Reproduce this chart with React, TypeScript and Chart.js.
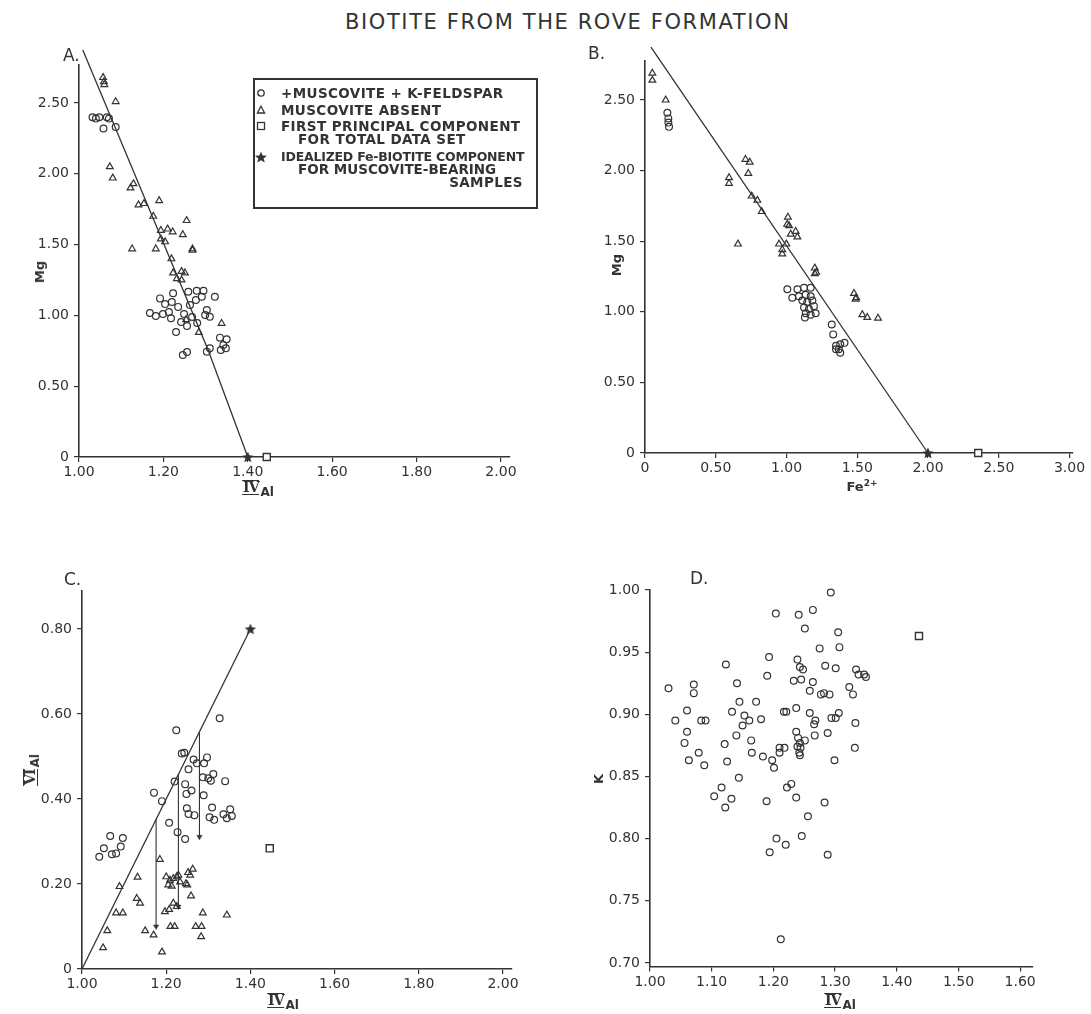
import React, { useEffect, useRef } from 'react';
import { Chart, registerables } from 'chart.js';

Chart.register(...registerables);

const INK = '#333333';

// ---------------- Panel A: Mg vs IV-Al ----------------
const aMuscKfs: number[][] = [
  [1.032, 2.40], [1.040, 2.39], [1.048, 2.40], [1.058, 2.32], [1.066, 2.40], [1.071, 2.39], [1.087, 2.33],
  [1.192, 1.12], [1.223, 1.156], [1.259, 1.167], [1.279, 1.174], [1.295, 1.174], [1.322, 1.132], [1.291, 1.132],
  [1.303, 1.038], [1.299, 1.003], [1.310, 0.991], [1.334, 0.843], [1.350, 0.831], [1.342, 0.791], [1.336, 0.756],
  [1.348, 0.768], [1.303, 0.744], [1.310, 0.768],
  [1.168, 1.017], [1.182, 0.996], [1.199, 1.010], [1.213, 1.024], [1.204, 1.080], [1.220, 1.095], [1.235, 1.060],
  [1.249, 1.010], [1.242, 0.953], [1.256, 0.925], [1.268, 0.989], [1.280, 0.946], [1.263, 1.073], [1.277, 1.109],
  [1.246, 0.720], [1.256, 0.742], [1.230, 0.883], [1.218, 0.980],
];
const aMuscAbsent: number[][] = [
  [1.057, 2.68], [1.059, 2.65], [1.060, 2.63], [1.087, 2.51], [1.073, 2.05], [1.080, 1.97], [1.122, 1.90],
  [1.129, 1.93], [1.141, 1.78], [1.154, 1.79], [1.190, 1.81], [1.176, 1.70], [1.194, 1.60], [1.210, 1.61],
  [1.222, 1.59], [1.255, 1.67], [1.246, 1.57], [1.194, 1.54], [1.204, 1.52], [1.126, 1.47], [1.182, 1.47],
  [1.269, 1.47], [1.269, 1.46], [1.219, 1.40], [1.223, 1.30], [1.243, 1.31], [1.251, 1.30], [1.232, 1.26],
  [1.243, 1.25], [1.338, 0.944], [1.254, 0.97], [1.284, 0.88],
];
const aPrincipal: number[][] = [[1.445, 0]];
const aIdeal: number[][] = [[1.40, 0]];
const aTrend: number[][] = [[1.009, 2.874], [1.306, 0.756], [1.40, 0]];
const aXTicks = [1.0, 1.2, 1.4, 1.6, 1.8, 2.0];
const aYTicks = [0, 0.5, 1.0, 1.5, 2.0, 2.5];

// ---------------- Panel B: Mg vs Fe2+ ----------------
const bMuscKfs: number[][] = [
  [0.158, 2.41], [0.165, 2.37], [0.165, 2.34], [0.170, 2.31],
  [1.006, 1.16], [1.041, 1.10], [1.077, 1.16], [1.088, 1.11], [1.124, 1.17], [1.136, 1.12], [1.171, 1.17],
  [1.171, 1.11], [1.112, 1.08], [1.147, 1.07], [1.183, 1.08], [1.124, 1.03], [1.159, 1.02], [1.194, 1.04],
  [1.136, 0.99], [1.171, 0.98], [1.206, 0.99], [1.130, 0.96],
  [1.320, 0.91], [1.330, 0.84], [1.350, 0.76], [1.380, 0.77], [1.410, 0.78], [1.370, 0.735], [1.380, 0.71],
  [1.350, 0.735],
];
const bMuscAbsent: number[][] = [
  [0.052, 2.69], [0.052, 2.64], [0.146, 2.50], [0.594, 1.95], [0.594, 1.91], [0.710, 2.08], [0.740, 2.06],
  [0.730, 1.98], [0.754, 1.82], [0.794, 1.79], [0.825, 1.71], [0.657, 1.48], [0.947, 1.48], [0.970, 1.44],
  [0.999, 1.48], [1.010, 1.67], [1.005, 1.62], [1.018, 1.61], [1.065, 1.57], [1.077, 1.53], [1.030, 1.55],
  [0.970, 1.41], [1.200, 1.31], [1.200, 1.27], [1.210, 1.28], [1.477, 1.13], [1.493, 1.10], [1.489, 1.09],
  [1.536, 0.98], [1.571, 0.96], [1.647, 0.955],
];
const bPrincipal: number[][] = [[2.355, 0]];
const bIdeal: number[][] = [[2.0, 0]];
const bTrend: number[][] = [[0.042, 2.874], [2.0, 0]];
const bXTicks = [0, 0.5, 1.0, 1.5, 2.0, 2.5, 3.0];
const bYTicks = [0, 0.5, 1.0, 1.5, 2.0, 2.5];

// ---------------- Panel C: VI-Al vs IV-Al ----------------
const cMuscKfs: number[][] = [
  [1.224, 0.562], [1.327, 0.590], [1.237, 0.507], [1.243, 0.509], [1.265, 0.493], [1.273, 0.484], [1.290, 0.484],
  [1.297, 0.498], [1.253, 0.470], [1.287, 0.451], [1.300, 0.449], [1.312, 0.459], [1.306, 0.443], [1.340, 0.442],
  [1.220, 0.441], [1.245, 0.435], [1.260, 0.420], [1.248, 0.412], [1.289, 0.409], [1.171, 0.415], [1.190, 0.395],
  [1.249, 0.378], [1.253, 0.365], [1.267, 0.362], [1.309, 0.380], [1.303, 0.357], [1.314, 0.351], [1.336, 0.364],
  [1.352, 0.376], [1.356, 0.360], [1.344, 0.355], [1.207, 0.344], [1.227, 0.322], [1.245, 0.306],
  [1.067, 0.313], [1.097, 0.308], [1.052, 0.284], [1.092, 0.288], [1.041, 0.264], [1.071, 0.270], [1.081, 0.272],
];
const cMuscAbsent: number[][] = [
  [1.185, 0.258], [1.132, 0.216], [1.089, 0.194], [1.200, 0.217], [1.209, 0.209], [1.217, 0.213], [1.225, 0.217],
  [1.229, 0.221], [1.205, 0.198], [1.213, 0.195], [1.233, 0.205], [1.247, 0.201], [1.252, 0.227], [1.263, 0.235],
  [1.257, 0.221], [1.250, 0.198], [1.130, 0.166], [1.138, 0.155], [1.259, 0.172], [1.081, 0.132], [1.097, 0.132],
  [1.197, 0.135], [1.207, 0.140], [1.217, 0.155], [1.225, 0.147], [1.287, 0.132], [1.344, 0.127], [1.284, 0.100],
  [1.283, 0.076], [1.060, 0.090], [1.050, 0.050], [1.150, 0.090], [1.170, 0.080], [1.190, 0.040], [1.210, 0.100],
  [1.220, 0.100], [1.270, 0.100],
];
const cPrincipal: number[][] = [[1.446, 0.284]];
const cIdeal: number[][] = [[1.40, 0.80]];
const cTrend: number[][] = [[1.0, 0], [1.40, 0.80]];
const cArrowX = [1.176, 1.229, 1.279];
const cArrowFrom = [0.352, 0.458, 0.558];
const cArrowTo = [0.10, 0.147, 0.311];
const cXTicks = [1.0, 1.2, 1.4, 1.6, 1.8, 2.0];
const cYTicks = [0, 0.2, 0.4, 0.6, 0.8];

// ---------------- Panel D: K vs IV-Al ----------------
const dSamples: number[][] = [
  [1.030, 0.921], [1.041, 0.895], [1.060, 0.903], [1.060, 0.886], [1.056, 0.877], [1.063, 0.863], [1.071, 0.924],
  [1.071, 0.917], [1.079, 0.869], [1.083, 0.895], [1.090, 0.895], [1.088, 0.859], [1.123, 0.940], [1.141, 0.925],
  [1.145, 0.910], [1.133, 0.902], [1.153, 0.899], [1.161, 0.895], [1.150, 0.891], [1.140, 0.883], [1.121, 0.876],
  [1.125, 0.862], [1.164, 0.879], [1.165, 0.869], [1.172, 0.910], [1.180, 0.896], [1.183, 0.866], [1.144, 0.849],
  [1.116, 0.841], [1.104, 0.834], [1.132, 0.832], [1.122, 0.825], [1.204, 0.981], [1.193, 0.946], [1.190, 0.931],
  [1.198, 0.863], [1.201, 0.857], [1.210, 0.873], [1.218, 0.873], [1.210, 0.869], [1.217, 0.902], [1.221, 0.902],
  [1.233, 0.927], [1.237, 0.905], [1.237, 0.886], [1.240, 0.881], [1.243, 0.877], [1.251, 0.879], [1.239, 0.874],
  [1.244, 0.873], [1.242, 0.869], [1.243, 0.867], [1.267, 0.883], [1.288, 0.885], [1.222, 0.841], [1.229, 0.844],
  [1.237, 0.833], [1.241, 0.980], [1.251, 0.969], [1.239, 0.944], [1.243, 0.938], [1.248, 0.936], [1.245, 0.928],
  [1.264, 0.984], [1.264, 0.926], [1.259, 0.919], [1.259, 0.901], [1.293, 0.998], [1.305, 0.966], [1.275, 0.953],
  [1.307, 0.954], [1.284, 0.939], [1.301, 0.937], [1.334, 0.936], [1.338, 0.932], [1.347, 0.932], [1.350, 0.930],
  [1.277, 0.916], [1.282, 0.917], [1.291, 0.916], [1.323, 0.922], [1.329, 0.916], [1.268, 0.895], [1.266, 0.892],
  [1.294, 0.897], [1.301, 0.897], [1.306, 0.901], [1.333, 0.893], [1.332, 0.873], [1.299, 0.863], [1.189, 0.830],
  [1.283, 0.829], [1.256, 0.818], [1.205, 0.800], [1.220, 0.795], [1.194, 0.789], [1.246, 0.802], [1.288, 0.787],
  [1.212, 0.719],
];
const dPrincipal: number[][] = [[1.436, 0.963]];
const dXTicks = [1.0, 1.1, 1.2, 1.3, 1.4, 1.5, 1.6];
const dYTicks = [0.70, 0.75, 0.80, 0.85, 0.90, 0.95, 1.00];

// ---------------- helpers ----------------
type Box = { L: number; T: number; W: number; H: number; l: number; t: number; r: number; b: number };

const pts = (a: number[][]) => a.map(([x, y]) => ({ x, y }));
const fmt2 = (v: number) => (v === 0 ? '0' : v.toFixed(2));

function makeStar(size: number) {
  const c = document.createElement('canvas');
  c.width = size;
  c.height = size;
  const g = c.getContext('2d')!;
  g.fillStyle = INK;
  g.beginPath();
  const cx = size / 2, cy = size / 2 + 0.5, R = size / 2, r = R * 0.45;
  for (let i = 0; i < 10; i++) {
    const a = -Math.PI / 2 + (i * Math.PI) / 5;
    const rr = i % 2 === 0 ? R : r;
    g.lineTo(cx + rr * Math.cos(a), cy + rr * Math.sin(a));
  }
  g.closePath();
  g.fill();
  return c;
}

const circleSet = (a: number[][]) => ({
  data: pts(a), pointStyle: 'circle', pointRadius: 3.4, borderColor: INK, borderWidth: 1.2,
  backgroundColor: 'rgba(255,255,255,0)', clip: false,
});
const triSet = (a: number[][]) => ({
  data: pts(a), pointStyle: 'triangle', pointRadius: 3.9, borderColor: INK, borderWidth: 1.2,
  backgroundColor: 'rgba(255,255,255,0)', clip: false,
});
const squareSet = (a: number[][]) => ({
  data: pts(a), pointStyle: 'rect', pointRadius: 5, borderColor: INK, borderWidth: 1.4,
  backgroundColor: '#ffffff', clip: false,
});
const starSet = (a: number[][], star: HTMLCanvasElement) => ({
  data: pts(a), pointStyle: star, pointRadius: 6, clip: false,
});
const lineSet = (a: number[][]) => ({
  data: pts(a), showLine: true, pointRadius: 0, borderColor: INK, borderWidth: 1.3, fill: false, clip: false,
});

const tickFont = { family: 'DejaVu Sans', size: 14 };

function makeConfig(box: Box, xr: number[], yr: number[], xTicks: number[], yTicks: number[], datasets: any[]) {
  const grid = { drawOnChartArea: false, drawTicks: true, tickLength: 5, color: INK, lineWidth: 1.2 };
  const border = { display: true, color: INK, width: 1.6 };
  return {
    type: 'scatter',
    data: { datasets },
    options: {
      animation: false,
      responsive: false,
      devicePixelRatio: 1,
      events: [],
      layout: { padding: { left: 0, top: box.t - box.T, right: box.L + box.W - box.r, bottom: 0 } },
      plugins: { legend: { display: false }, tooltip: { enabled: false }, title: { display: false } },
      scales: {
        x: {
          type: 'linear', min: xr[0], max: xr[1],
          afterBuildTicks: (s: any) => { s.ticks = xTicks.map((v) => ({ value: v })); },
          afterFit: (s: any) => { s.height = box.T + box.H - box.b; },
          grid, border,
          ticks: { callback: (v: any) => fmt2(Number(v)), font: tickFont, color: INK, padding: 2, maxRotation: 0, autoSkip: false },
        },
        y: {
          type: 'linear', min: yr[0], max: yr[1],
          afterBuildTicks: (s: any) => { s.ticks = yTicks.map((v) => ({ value: v })); },
          afterFit: (s: any) => { s.width = box.l - box.L; },
          grid, border,
          ticks: { callback: (v: any) => fmt2(Number(v)), font: tickFont, color: INK, padding: 5, autoSkip: false },
        },
      },
    },
  };
}

const BOX_A: Box = { L: 0, T: 40, W: 525, H: 455, l: 79, t: 64.8, r: 509.4, b: 457 };
const BOX_B: Box = { L: 560, T: 40, W: 531, H: 455, l: 645, t: 60.5, r: 1072.3, b: 453 };
const BOX_C: Box = { L: 0, T: 560, W: 525, H: 440, l: 82, t: 590.8, r: 511.4, b: 969 };
const BOX_D: Box = { L: 560, T: 560, W: 531, H: 440, l: 650, t: 590, r: 1032.5, b: 966.6 };

function Panel({ box, build }: { box: Box; build: (star: HTMLCanvasElement) => any }) {
  const ref = useRef<HTMLCanvasElement>(null);
  useEffect(() => {
    const star = makeStar(12);
    const chart = new Chart(ref.current as HTMLCanvasElement, build(star));
    return () => chart.destroy();
  }, []);
  return (
    <canvas
      ref={ref}
      width={box.W}
      height={box.H}
      style={{ position: 'absolute', left: box.L, top: box.T, width: box.W, height: box.H }}
    />
  );
}

const buildA = (star: HTMLCanvasElement) =>
  makeConfig(BOX_A, [1.0, 2.02], [0, 2.77], aXTicks, aYTicks, [
    circleSet(aMuscKfs), triSet(aMuscAbsent), squareSet(aPrincipal), starSet(aIdeal, star), lineSet(aTrend),
  ]);
const buildB = (star: HTMLCanvasElement) =>
  makeConfig(BOX_B, [0, 3.02], [0, 2.78], bXTicks, bYTicks, [
    circleSet(bMuscKfs), triSet(bMuscAbsent), squareSet(bPrincipal), starSet(bIdeal, star), lineSet(bTrend),
  ]);
const buildC = (star: HTMLCanvasElement) =>
  makeConfig(BOX_C, [1.0, 2.02], [0, 0.89], cXTicks, cYTicks, [
    circleSet(cMuscKfs), triSet(cMuscAbsent), squareSet(cPrincipal), starSet(cIdeal, star), lineSet(cTrend),
    ...cArrowX.map((x, i) => ({
      data: [{ x, y: cArrowFrom[i] }, { x, y: cArrowTo[i] }],
      showLine: true, borderColor: INK, borderWidth: 1.1, fill: false, clip: false,
      pointRadius: [0, 3], pointStyle: 'triangle', pointRotation: 180,
      pointBackgroundColor: INK, pointBorderColor: INK, pointBorderWidth: 0.5,
    })),
  ]);
const buildD = (star: HTMLCanvasElement) =>
  makeConfig(BOX_D, [1.0, 1.62], [0.697, 1.0], dXTicks, dYTicks, [circleSet(dSamples), squareSet(dPrincipal)]);

// ---------------- text overlays ----------------
const abs = (left: number, top: number, extra: any = {}) => ({ position: 'absolute' as const, left, top, ...extra });

function RomanAl({ roman }: { roman: string }) {
  return (
    <span style={{ whiteSpace: 'nowrap', display: 'inline-flex', alignItems: 'flex-start' }}>
      <span
        style={{
          fontFamily: 'DejaVu Serif', fontWeight: 'bold', fontSize: 14, lineHeight: '13px',
          borderTop: '1.6px solid #333', borderBottom: '1.6px solid #333', padding: '0 1px', letterSpacing: -1,
        }}
      >
        {roman}
      </span>
      <span style={{ fontSize: 12, fontWeight: 'bold', position: 'relative', top: 6, marginLeft: 1 }}>Al</span>
    </span>
  );
}

function Centered({ cx, cy, rotate, children }: { cx: number; cy: number; rotate?: boolean; children: any }) {
  return (
    <div
      style={{
        position: 'absolute', left: cx, top: cy, transform: `translate(-50%, -50%)${rotate ? ' rotate(-90deg)' : ''}`,
        whiteSpace: 'nowrap', lineHeight: 1,
      }}
    >
      {children}
    </div>
  );
}

const legendText = { fontFamily: 'DejaVu Sans', fontWeight: 'bold' as const, fontSize: 13.5, letterSpacing: 0.4, lineHeight: '14px', whiteSpace: 'nowrap' as const };

function Legend() {
  const mk = (shape: string, cy: number) => (
    <svg style={abs(254, cy - 6)} width={14} height={12} viewBox="0 0 14 12">
      {shape === 'c' && <circle cx={7} cy={6} r={3.2} fill="none" stroke={INK} strokeWidth={1.3} />}
      {shape === 't' && <polygon points="7,2.2 10.6,9 3.4,9" fill="none" stroke={INK} strokeWidth={1.3} />}
      {shape === 's' && <rect x={3.5} y={2.5} width={7} height={7} fill="none" stroke={INK} strokeWidth={1.3} />}
      {shape === 'st' && <polygon points="7,0.5 8.6,4.6 13,4.8 9.6,7.5 10.8,11.6 7,9.2 3.2,11.6 4.4,7.5 1,4.8 5.4,4.6" fill={INK} />}
    </svg>
  );
  const line = (text: string, left: number, cy: number, extra: any = {}) => (
    <div style={{ ...abs(left, cy - 7), ...legendText, ...extra }}>{text}</div>
  );
  return (
    <>
      <div style={abs(253, 78, { width: 281, height: 127, border: '2px solid #333' })} />
      {mk('c', 93)}
      {line('+MUSCOVITE + K-FELDSPAR', 281, 93)}
      {mk('t', 110)}
      {line('MUSCOVITE ABSENT', 281, 110)}
      {mk('s', 126)}
      {line('FIRST PRINCIPAL COMPONENT', 281, 126)}
      {line('FOR TOTAL DATA SET', 298, 138.5)}
      {mk('st', 157)}
      {line('IDEALIZED Fe-BIOTITE COMPONENT', 281, 157, { fontSize: 12.5, letterSpacing: -0.2 })}
      {line('FOR MUSCOVITE-BEARING', 298, 168.5, { letterSpacing: 0 })}
      <div style={{ ...abs(0, 174.5), ...legendText, width: 523, textAlign: 'right' }}>SAMPLES</div>
    </>
  );
}

export default function App() {
  const letter = { fontFamily: 'DejaVu Sans', fontSize: 17, lineHeight: 1 };
  const axisTitle = { fontFamily: 'DejaVu Sans', fontWeight: 'bold' as const, fontSize: 13 };
  return (
    <div
      style={{
        position: 'absolute', left: 0, top: 0, width: 1091, height: 1014, background: '#ffffff',
        fontFamily: 'DejaVu Sans', color: INK, overflow: 'hidden',
      }}
    >
      <Panel box={BOX_A} build={buildA} />
      <Panel box={BOX_B} build={buildB} />
      <Panel box={BOX_C} build={buildC} />
      <Panel box={BOX_D} build={buildD} />

      <div style={abs(345, 12, { fontSize: 21, letterSpacing: 1.6, lineHeight: 1, whiteSpace: 'nowrap' })}>
        BIOTITE FROM THE ROVE FORMATION
      </div>

      <div style={{ ...abs(63, 47), ...letter }}>A.</div>
      <div style={{ ...abs(588, 45), ...letter }}>B.</div>
      <div style={{ ...abs(64, 571), ...letter }}>C.</div>
      <div style={{ ...abs(690, 570), ...letter }}>D.</div>

      <Legend />

      <Centered cx={39} cy={272} rotate><span style={axisTitle}>Mg</span></Centered>
      <Centered cx={258} cy={487}><RomanAl roman="IV" /></Centered>
      <Centered cx={616} cy={265} rotate><span style={axisTitle}>Mg</span></Centered>
      <Centered cx={862} cy={486}>
        <span style={axisTitle}>Fe<sup style={{ fontSize: 9 }}>2+</sup></span>
      </Centered>
      <Centered cx={30} cy={770} rotate><RomanAl roman="VI" /></Centered>
      <Centered cx={283} cy={1000}><RomanAl roman="IV" /></Centered>
      <Centered cx={598} cy={779} rotate><span style={axisTitle}>K</span></Centered>
      <Centered cx={840} cy={1000}><RomanAl roman="IV" /></Centered>
    </div>
  );
}
